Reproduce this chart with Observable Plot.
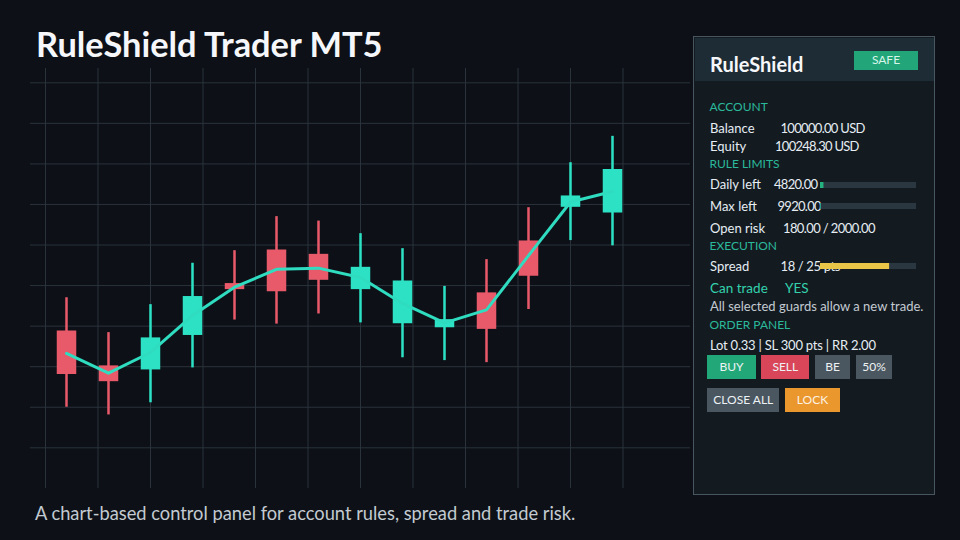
<!DOCTYPE html>
<html><head><meta charset="utf-8">
<script src="https://cdn.jsdelivr.net/npm/d3@7"></script>
<script src="https://cdn.jsdelivr.net/npm/@observablehq/plot@0.6"></script>
<style>
html,body{margin:0;padding:0;background:#0d1117;}
#root{position:relative;width:960px;height:540px;overflow:hidden;background:#0d1117;font-family:Lato,"Open Sans",sans-serif;}
.t{position:absolute;white-space:nowrap;line-height:1.2;}
.btn{position:absolute;display:flex;align-items:center;justify-content:center;font-size:12px;color:#eef2f5;line-height:1;}
.abs{position:absolute;}
</style></head><body><div id="root"></div>
<script>
// ---- chart data ----
const opens  = [138.8,130.2,129.2,137.7,150.5,158.8,157.7,149.0,140.6,139.6,148.2,161.0,169.3,167.9];
const closes = [128.1,126.3,137.1,147.3,149.0,148.5,151.3,154.5,151.1,141.6,139.2,152.3,172.1,178.6];
const highs  = [147.0,138.4,145.3,155.5,158.6,167.0,165.9,162.8,159.1,149.8,156.4,169.2,180.3,186.8];
const lows   = [120.0,118.1,121.1,129.7,141.5,140.5,143.0,140.8,132.2,131.5,131.0,144.1,161.1,159.8];
const trend  = [133.3,128.4,133.5,142.6,149.6,154.0,154.3,152.0,145.6,140.8,144.0,157.4,170.6,173.2];
const yGridTicks = [110,120,130,140,150,160,170,180,190,200];
const xGridTicks = [-0.5,0.75,2,3.25,4.5,5.75,7,8.25,9.5,10.75,12,13.25];

// ---- panel data ----
const balance = "100000.00 USD";
const equity = "100248.30 USD";
const dailyLimit = 5000, dailyLeft = 4820;
const maxLimit = 10000, maxLeft = 9920;
const openRisk = 180, openRiskLimit = 2000;
const spreadNow = 18, spreadMax = 25;

const UP = "#2de2c4", DOWN = "#e85a6a";
const candles = opens.map((o,i)=>({i, open:o, close:closes[i], high:highs[i], low:lows[i], up: closes[i]>=o}));
const trendData = trend.map((v,i)=>({i, v}));

const root = document.getElementById("root");

const chart = Plot.plot({
  width: 960, height: 540,
  marginLeft: 30, marginRight: 270, marginTop: 68, marginBottom: 52,
  x: {domain: [-0.5, 13.5], range: [45, 633], axis: null},
  y: {domain: [110, 200], range: [447.3, 82.3], axis: null},
  style: {background: "transparent", overflow: "visible"},
  marks: [
    Plot.ruleY(yGridTicks, {stroke: "#2a323b", strokeWidth: 1}),
    Plot.ruleX(xGridTicks, {stroke: "#2a323b", strokeWidth: 1}),
    Plot.ruleX(candles, {x: "i", y1: "low", y2: "high", stroke: d => d.up ? UP : DOWN, strokeWidth: 2.5}),
    Plot.ruleX(candles, {x: "i", y1: "open", y2: "close", stroke: d => d.up ? UP : DOWN, strokeWidth: 19.5}),
    Plot.line(trendData, {x: "i", y: "v", stroke: "#2fdcc0", strokeWidth: 3, strokeLinejoin: "round", strokeLinecap: "round"})
  ]
});
chart.style.position = "absolute"; chart.style.left = "0px"; chart.style.top = "0px";
root.appendChild(chart);

function txt(str, x, cy, fs, color, weight, fitWidth) {
  const d = document.createElement("div");
  d.className = "t"; d.textContent = str;
  d.style.left = x + "px"; d.style.top = (cy - 0.629*fs) + "px";
  d.style.fontSize = fs + "px"; d.style.color = color;
  if (weight) d.style.fontWeight = weight;
  root.appendChild(d);
  if (fitWidth) {
    const w = d.getBoundingClientRect().width;
    const n = Math.max(1, str.length - 1);
    d.style.letterSpacing = ((fitWidth - w) / n) + "px";
  }
  return d;
}
function box(x, y, w, h, bg, extra) {
  const d = document.createElement("div");
  d.className = "abs";
  Object.assign(d.style, {left: x+"px", top: y+"px", width: w+"px", height: h+"px", background: bg}, extra||{});
  root.appendChild(d); return d;
}
function btn(label, x, y, w, h, bg, color) {
  const d = document.createElement("div");
  d.className = "btn"; d.textContent = label;
  Object.assign(d.style, {left: x+"px", top: y+"px", width: w+"px", height: h+"px", background: bg});
  if (color) d.style.color = color;
  root.appendChild(d); return d;
}
function meter(x, y, used, limit, fill) {
  const m = Plot.plot({
    width: 96, height: 6, margin: 0,
    x: {domain: [0, limit], axis: null},
    style: {background: "transparent"},
    marks: [
      Plot.barX([limit], {x1: 0, x2: d => d, fill: "#2a3740"}),
      Plot.barX([used], {x1: 0, x2: d => d, fill})
    ]
  });
  Object.assign(m.style, {position: "absolute", left: x+"px", top: y+"px"});
  root.appendChild(m); return m;
}

// title & caption
txt("RuleShield Trader MT5", 36, 44.2, 34.4, "#f5f7fa", 700);
txt("A chart-based control panel for account rules, spread and trade risk.", 35, 514.5, 18.3, "#c3cad1");

// panel
box(693, 36, 242, 459, "#131b21", {border: "1.5px solid #48565f", boxSizing: "border-box"});
box(694.5, 37.5, 239, 43, "#1e2c35");
txt("RuleShield", 710, 64.2, 20, "#f5f7fa", 700);
btn("SAFE", 854.3, 50.7, 63.4, 19.3, "#22a578", "#d8f5ea");

const SEC = "#2bb99b", TXT = "#e6edf3";
txt("ACCOUNT", 709.5, 107.7, 12, SEC);
txt("Balance", 710, 128.7, 13, TXT);
txt(balance, 780.5, 128.7, 13, TXT, null, 85);
txt("Equity", 710, 147.2, 13, TXT);
txt(equity, 775, 147.2, 13, TXT, null, 84.5);
txt("RULE LIMITS", 709.5, 164.7, 12, SEC);
txt("Daily left", 710, 185.3, 13, TXT);
txt(dailyLeft.toFixed(2), 774, 185.3, 13, TXT, null, 44);
txt("Max left", 710, 206.7, 13, TXT);
txt(maxLeft.toFixed(2), 777.5, 206.7, 13, TXT, null, 44);
txt("Open risk", 710, 228.7, 13, TXT);
txt(openRisk.toFixed(2) + " / " + openRiskLimit.toFixed(2), 783, 228.7, 13, TXT, null, 92.5);
txt("EXECUTION", 709.5, 246.3, 12, SEC);
txt("Spread", 710, 266.7, 13, TXT);
txt(spreadNow + " / " + spreadMax + " pts", 780.5, 266.7, 13, TXT, null, 60);
txt("Can trade", 710, 288.3, 13.5, "#33d1ac");
txt("YES", 785, 288.3, 13.5, "#33d1ac");
txt("All selected guards allow a new trade.", 710, 307.3, 13, "#c3cad1");
txt("ORDER PANEL", 709.5, 325.3, 12, SEC);
txt("Lot 0.33 | SL 300 pts | RR 2.00", 710, 345.7, 13, TXT, null, 166);

meter(820, 181.7, dailyLimit - dailyLeft, dailyLimit, "#25b07f");
meter(820, 202.7, maxLimit - maxLeft, maxLimit, "#2bbf9f");
meter(820, 263.3, spreadNow, spreadMax, "#e9c548");

btn("BUY", 707.3, 355, 48.4, 24, "#22a878");
btn("SELL", 761.3, 355, 48, 24, "#d94659");
btn("BE", 815.3, 355, 34.7, 24, "#4a5660");
btn("50%", 856, 355, 36, 24, "#4a5660");
btn("CLOSE ALL", 707.3, 388.3, 72, 23.4, "#4a5660");
btn("LOCK", 785.3, 388.3, 54.4, 23.4, "#ea982e", "#fdf0e0");
</script></body></html>
